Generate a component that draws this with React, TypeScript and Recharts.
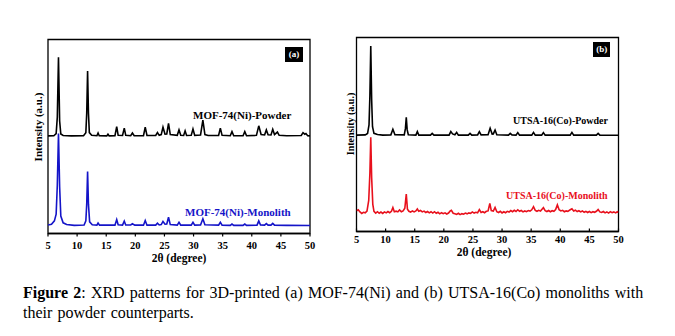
import React from "react";
import { LineChart, Line, XAxis, YAxis, ReferenceArea } from "recharts";

// 2θ tick labels shared by both panels
const twoThetaTicks = [5, 10, 15, 20, 25, 30, 35, 40, 45, 50];

// (a) MOF-74(Ni) powder: [2θ, intensity a.u.]
const mofPowder = [
  [5, 50.3], [6.0, 50.4], [6.4, 51.5], [6.6, 60], [6.8, 90.8], [7.0, 58], [7.2, 51.3], [7.6, 50.5],
  [9, 50.3], [11.1, 50.4], [11.5, 52], [11.65, 62], [11.8, 83.8], [11.95, 62], [12.1, 52], [12.5, 50.6],
  [13.4, 50.4], [13.6, 51.8], [13.8, 50.4], [15.1, 50.3], [15.3, 51.2], [15.5, 50.3], [16.5, 50.4],
  [16.8, 55.1], [17.05, 50.6], [17.8, 50.5], [18.1, 54.3], [18.35, 50.6], [19.2, 50.4], [19.5, 51.8],
  [19.8, 50.4], [21.4, 50.4], [21.7, 54.8], [22.0, 50.5], [23.5, 50.5], [23.8, 52], [24.1, 50.6],
  [24.45, 51], [24.75, 54.8], [25.1, 51.2], [25.4, 51.3], [25.7, 56.8], [26.0, 51], [27.2, 50.6],
  [27.5, 53.4], [27.8, 50.6], [28.3, 50.5], [28.55, 52.9], [28.8, 50.5], [29.6, 50.6], [29.9, 53.9],
  [30.2, 50.6], [31.2, 50.8], [31.6, 58.5], [31.95, 51], [32.5, 50.5], [34.3, 50.5], [34.6, 54.3],
  [34.9, 50.6], [36.3, 50.4], [36.6, 52.5], [36.9, 50.4], [38.5, 50.4], [38.8, 52.5], [39.1, 50.4],
  [40.8, 50.6], [41.2, 55.5], [41.6, 51], [42.2, 50.8], [42.5, 53.4], [42.8, 50.9], [43.3, 50.8],
  [43.6, 53.7], [43.9, 51], [44.4, 52.3], [44.7, 50.6], [46, 50.4], [48.5, 50.5], [48.8, 52],
  [49.1, 51.2], [49.3, 51.5], [49.6, 50.4], [50, 50.3],
];

// (a) MOF-74(Ni) monolith
const mofMonolith = [
  [5, 4.4], [5.6, 4.8], [6.1, 6.5], [6.4, 10], [6.6, 25], [6.8, 51.5], [7.0, 24], [7.2, 9], [7.6, 5.5],
  [8.2, 4.6], [9.5, 4.2], [11.2, 4.4], [11.5, 6.5], [11.65, 15], [11.8, 31.9], [11.95, 15], [12.15, 6],
  [12.6, 4.5], [13.4, 4.3], [13.6, 5.4], [13.85, 4.3], [16.5, 4.3], [16.8, 7.2], [17.05, 4.5],
  [17.8, 4.3], [18.1, 6.4], [18.35, 4.4], [19.2, 4.4], [19.5, 5.0], [19.9, 4.3], [21.4, 4.3],
  [21.7, 6.7], [22.0, 4.3], [23.5, 4.3], [23.8, 5.3], [24.1, 4.4], [24.45, 4.6], [24.75, 6.2],
  [25.1, 4.8], [25.4, 4.9], [25.7, 8.4], [26.0, 4.6], [27.2, 4.3], [27.5, 5.8], [27.8, 4.3],
  [29.6, 4.3], [29.9, 5.8], [30.2, 4.3], [31.2, 4.4], [31.6, 7.6], [31.95, 4.5], [34.3, 4.3],
  [34.6, 5.8], [34.9, 4.3], [36.3, 4.2], [36.6, 4.9], [36.9, 4.2], [38.5, 4.2], [38.8, 4.9],
  [39.1, 4.2], [40.9, 4.3], [41.2, 6.5], [41.5, 4.4], [42.2, 4.3], [42.5, 5.1], [42.8, 4.3],
  [43.3, 4.3], [43.6, 5.2], [43.9, 4.3], [46, 4.2], [50, 4.1],
];

// (b) UTSA-16(Co) powder
const utsaPowder = [
  [5, 49.7], [6.5, 49.8], [6.9, 50.5], [7.15, 55], [7.3, 70], [7.45, 95.6], [7.6, 68], [7.75, 54],
  [8.0, 50.6], [8.6, 50], [9.5, 49.7], [10.9, 49.8], [11.25, 52.7], [11.6, 49.9], [13.2, 49.8],
  [13.4, 53], [13.55, 58.9], [13.7, 52.5], [13.9, 49.9], [15.2, 49.7], [15.45, 51.5], [15.7, 49.7],
  [17.7, 49.7], [18.0, 50.6], [18.3, 49.7], [20.9, 49.7], [21.2, 51.5], [21.5, 50.3], [21.9, 49.9],
  [22.2, 51.1], [22.5, 49.7], [24.2, 49.7], [24.5, 50.6], [24.8, 49.7], [25.8, 49.8], [26.1, 51.5],
  [26.4, 49.8], [27.6, 49.9], [27.95, 53.2], [28.3, 50.2], [28.5, 50.3], [28.8, 52.3], [29.1, 49.9],
  [31.1, 49.7], [31.4, 50.6], [31.7, 49.8], [32.4, 49.7], [32.7, 51], [33, 49.7], [35.1, 49.7],
  [35.4, 51.1], [35.7, 49.7], [36.8, 49.7], [37.1, 51], [37.4, 49.7], [41.7, 49.7], [42.0, 51.1],
  [42.3, 49.7], [46.2, 49.7], [46.5, 50.6], [46.8, 49.7], [50, 49.6],
];

// (b) UTSA-16(Co) monolith, noisy baseline
const utsaMonolith = [
  [5, 10.7], [5.3, 11.2], [5.6, 10.1], [5.9, 9.3], [6.2, 9.9], [6.5, 9.6], [6.8, 10.5], [7.1, 16],
  [7.3, 30], [7.45, 48.6], [7.6, 28], [7.8, 14], [8.0, 10.4], [8.3, 9.5], [8.6, 10.2], [8.9, 9.4],
  [9.2, 10], [9.5, 9.3], [9.8, 10.1], [10.1, 9.6], [10.4, 10.3], [10.7, 9.7], [11.0, 10.4],
  [11.25, 12.3], [11.5, 10.2], [11.8, 10.5], [12.1, 10.1], [12.4, 11.1], [12.7, 10.2], [13.0, 10.6],
  [13.3, 12], [13.55, 19.3], [13.75, 11.5], [14.0, 10.4], [14.3, 10], [14.6, 10.6], [14.9, 10.1],
  [15.2, 10.6], [15.45, 11.6], [15.7, 10.4], [16.0, 10.8], [16.3, 10.1], [16.6, 10.5], [16.9, 9.8],
  [17.2, 10.3], [17.5, 9.6], [17.8, 10.2], [18.1, 9.5], [18.4, 10.2], [18.7, 9.4], [19.0, 9.9],
  [19.3, 9.1], [19.6, 9.7], [19.9, 9.2], [20.2, 9.6], [20.5, 9], [20.8, 9.5], [21.1, 10.6],
  [21.3, 10.9], [21.6, 9.4], [21.9, 9.2], [22.2, 8.8], [22.5, 9.4], [22.8, 8.7], [23.1, 9.2],
  [23.4, 8.9], [23.7, 9.5], [24.0, 9.1], [24.3, 9.6], [24.6, 9.3], [24.9, 10.1], [25.2, 9.5],
  [25.5, 9.9], [25.8, 9.6], [26.1, 11.3], [26.4, 9.8], [26.7, 10.2], [27.0, 9.7], [27.3, 10.4],
  [27.6, 10.6], [27.9, 14.5], [28.15, 10.8], [28.5, 10.5], [28.8, 12.4], [29.1, 10.2], [29.4, 9.8],
  [29.7, 10.4], [30.0, 9.6], [30.3, 10.2], [30.6, 9.7], [30.9, 10.4], [31.2, 10.0], [31.5, 10.8],
  [31.8, 10.2], [32.1, 10.9], [32.4, 10.3], [32.7, 11.2], [33.0, 10.4], [33.3, 10.8], [33.6, 10.1],
  [33.9, 10.6], [34.2, 10.2], [34.5, 10.8], [34.8, 10.5], [35.1, 11.2], [35.4, 12.8], [35.7, 10.9],
  [36.0, 10.4], [36.3, 10.9], [36.6, 10.5], [36.9, 11.6], [37.1, 12.3], [37.4, 10.7], [37.7, 10.3],
  [38.0, 10.8], [38.3, 10.2], [38.6, 10.7], [38.9, 10.4], [39.2, 11.3], [39.5, 13.7], [39.8, 11.2],
  [40.1, 10.6], [40.4, 10.9], [40.7, 10.2], [41.0, 10.6], [41.3, 10.4], [41.7, 11.2], [42.0, 11.7],
  [42.3, 10.6], [42.6, 11.0], [42.9, 10.3], [43.2, 10.7], [43.5, 10.1], [43.8, 10.6], [44.1, 9.9],
  [44.4, 10.4], [44.7, 9.8], [45.0, 10.3], [45.3, 9.7], [45.6, 10.2], [45.9, 9.9], [46.2, 10.4],
  [46.5, 11.3], [46.8, 10.1], [47.1, 9.8], [47.4, 10.3], [47.7, 9.6], [48.0, 10.1], [48.3, 9.5],
  [48.6, 10.2], [48.9, 9.7], [49.2, 10.1], [49.5, 9.6], [49.8, 10.2], [50, 9.8],
];

const toPoints = (rows: number[][]) => rows.map(([t, i]) => ({ t, i }));

const serif = "'Liberation Serif', 'Times New Roman', serif";
const BLUE = "#1414c8";
const RED = "#e8101c";

function Panel({ powder, monolith, monoColor, margin, tickMargin, tickSize }: any) {
  return (
    <LineChart width={330} height={270} margin={margin}>
      <XAxis
        dataKey="t"
        type="number"
        domain={[5, 50]}
        ticks={twoThetaTicks}
        allowDataOverflow
        height={30}
        axisLine={{ stroke: "#000", strokeWidth: 1.3 }}
        tickLine={{ stroke: "#000", strokeWidth: 1.2 }}
        tickSize={tickSize}
        tickMargin={tickMargin}
        tick={{ fill: "#000", fontSize: 10.5, fontWeight: 700, fontFamily: serif }}
      />
      <YAxis hide type="number" domain={[0, 100]} allowDataOverflow />
      <ReferenceArea x1={5} x2={50} y1={0} y2={100} fill="none" stroke="#000" strokeWidth={1.3} />
      <Line
        data={toPoints(powder)}
        dataKey="i"
        type="linear"
        stroke="#000"
        strokeWidth={1.6}
        dot={false}
        isAnimationActive={false}
      />
      <Line
        data={toPoints(monolith)}
        dataKey="i"
        type="linear"
        stroke={monoColor}
        strokeWidth={1.6}
        dot={false}
        isAnimationActive={false}
      />
    </LineChart>
  );
}

const abs = (left: number, top: number, extra: React.CSSProperties = {}): React.CSSProperties => ({
  position: "absolute",
  left,
  top,
  whiteSpace: "nowrap",
  fontFamily: serif,
  ...extra,
});

export default function App() {
  return (
    <div style={{ position: "relative", width: 675, height: 336, background: "#fff", overflow: "hidden" }}>
      <style>{"body{margin:0}"}</style>

      <div style={abs(0, 0)}>
        <Panel
          powder={mofPowder}
          monolith={mofMonolith}
          monoColor={BLUE}
          margin={{ top: 39.5, right: 20, bottom: 6.5, left: 48 }}
          tickSize={3}
          tickMargin={5}
        />
      </div>
      <div style={abs(330, 0)}>
        <Panel
          powder={utsaPowder}
          monolith={utsaMonolith}
          monoColor={RED}
          margin={{ top: 37.5, right: 41.5, bottom: 8.5, left: 26.5 }}
          tickSize={-3}
          tickMargin={7}
        />
      </div>

      {/* panel (a) annotations */}
      <div style={abs(285, 47.3, { width: 18, height: 15, background: "#000", color: "#fff", fontSize: 9, fontWeight: 700, lineHeight: "15px", textAlign: "center" })}>(a)</div>
      <div style={abs(193, 108, { fontSize: 11, fontWeight: 700, color: "#000", lineHeight: "14px" })}>MOF-74(Ni)-Powder</div>
      <div style={abs(185, 204.5, { fontSize: 11, fontWeight: 700, color: BLUE, lineHeight: "14px" })}>MOF-74(Ni)-Monolith</div>
      <div style={abs(37.7, 126.7, { fontSize: 11, fontWeight: 700, transform: "translate(-50%,-50%) rotate(-90deg)" })}>Intensity (a.u.)</div>
      <div style={abs(179, 257.6, { fontSize: 11.5, fontWeight: 700, transform: "translate(-50%,-50%)" })}>2θ (degree)</div>

      {/* panel (b) annotations */}
      <div style={abs(593.3, 41.7, { width: 17, height: 15, background: "#000", color: "#fff", fontSize: 9, fontWeight: 700, lineHeight: "15px", textAlign: "center" })}>(b)</div>
      <div style={abs(513, 113.5, { fontSize: 10, fontWeight: 700, color: "#000", lineHeight: "13px" })}>UTSA-16(Co)-Powder</div>
      <div style={abs(506, 188.5, { fontSize: 10, fontWeight: 700, color: RED, lineHeight: "13px" })}>UTSA-16(Co)-Monolith</div>
      <div style={abs(350, 124, { fontSize: 10, fontWeight: 700, transform: "translate(-50%,-50%) rotate(-90deg)" })}>Intensity (a.u.)</div>
      <div style={abs(484, 251.7, { fontSize: 11.5, fontWeight: 700, transform: "translate(-50%,-50%)" })}>2θ (degree)</div>

      {/* caption */}
      <div style={abs(23, 283.3, { fontSize: 16, lineHeight: "19.4px", wordSpacing: 1.2, color: "#000" })}>
        <b>Figure 2</b>: XRD patterns for 3D-printed (a) MOF-74(Ni) and (b) UTSA-16(Co) monoliths with
        <br />
        their powder counterparts.
      </div>
    </div>
  );
}
